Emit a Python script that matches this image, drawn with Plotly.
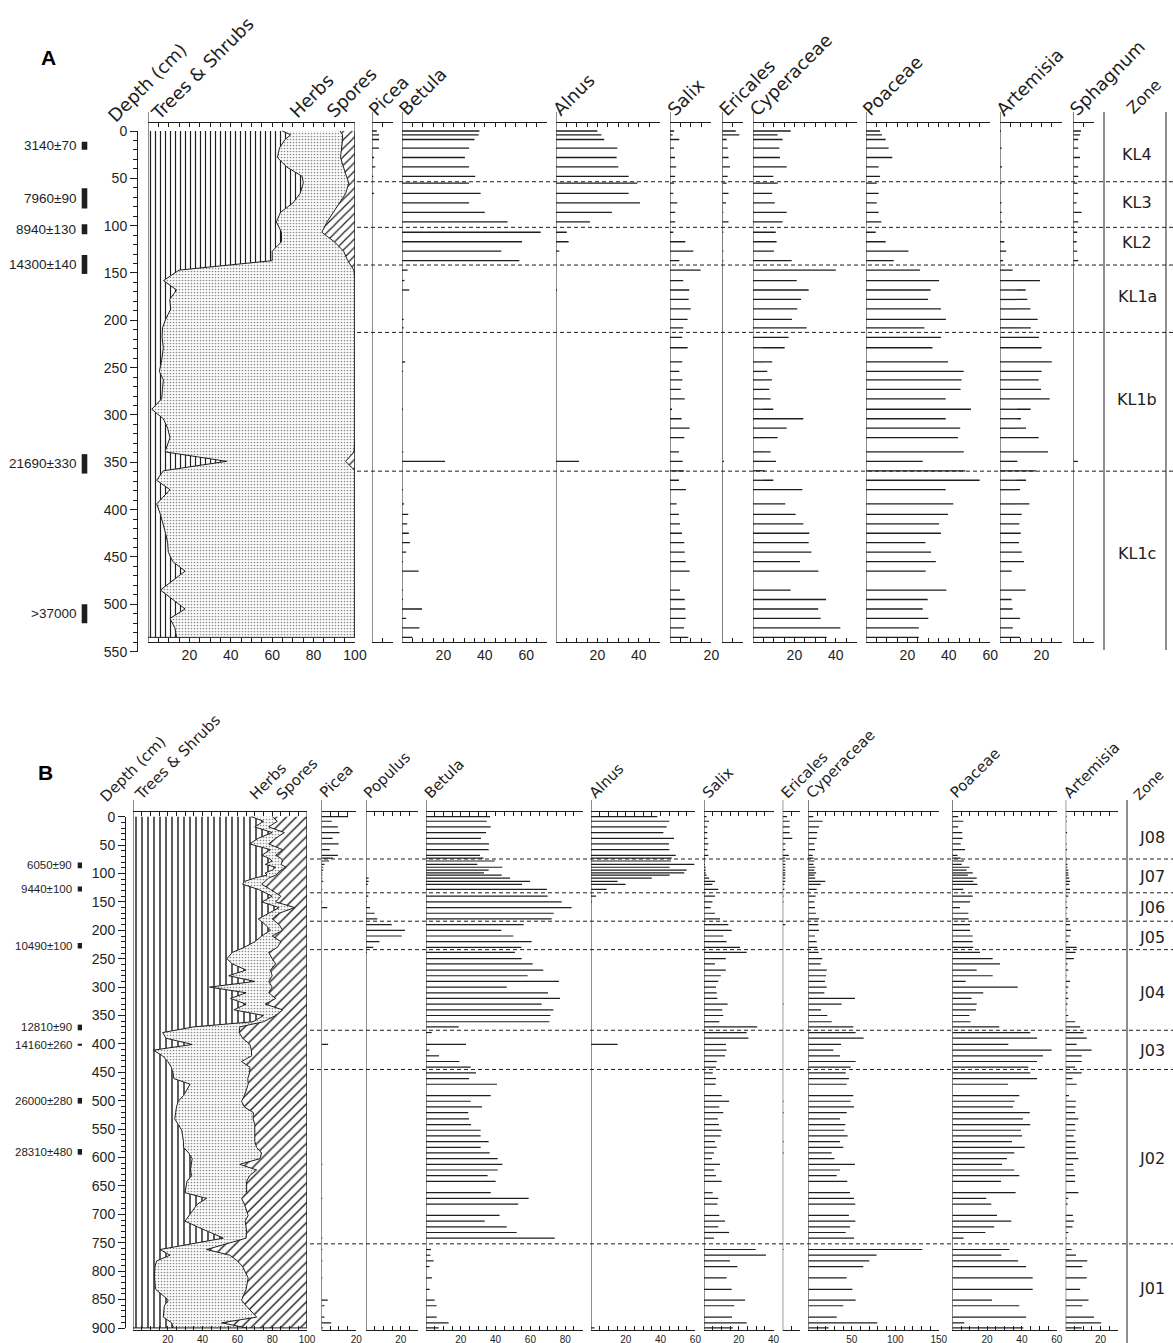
import plotly.graph_objects as go

W, H = 1173, 1343
INK = "#1e1e1e"
FONT = "DejaVu Sans"
NUM_FONT = "Liberation Sans, Arial, sans-serif"

# ------------------------------------------------------------------
# Core A (zones KL1c-KL4): sample depths (cm) and percentages
# ------------------------------------------------------------------
depth_A = [0, 4, 9, 18, 28, 38, 48, 55, 66, 76,
           86, 96, 107, 117, 127, 137, 147, 158, 168, 178,
           188, 199, 208, 218, 229, 244, 254, 263, 273, 283,
           294, 304, 314, 324, 339, 349, 359, 369, 379, 394,
           405, 415, 425, 435, 445, 455, 465, 485, 495, 505,
           515, 525, 535]
trees_shrubs_A = [64.9, 68.9, 66.2, 63.5, 62.5, 67.0, 74.5, 75.0, 73.5, 70.0,
                  64.0, 62.0, 64.5, 64.5, 60.0, 60.0, 15.0, 7.5, 13.8, 10.5,
                  11.0, 8.5, 7.0, 6.8, 7.4, 6.5, 5.5, 7.4, 7.0, 6.6,
                  1.8, 7.4, 9.5, 10.6, 8.2, 38.0, 7.4, 4.2, 10.6, 4.2,
                  6.0, 7.4, 8.5, 9.5, 9.8, 12.0, 17.9, 6.0, 12.0, 17.9,
                  10.6, 13.0, 13.8]
# cumulative trees & shrubs + herbs; spores make up the rest to 100
trees_herbs_A = [92.8, 94.0, 94.0, 93.5, 93.0, 94.4, 96.0, 97.0, 95.5, 92.5,
                 89.5, 86.5, 84.0, 90.0, 94.5, 96.5, 99.5, 100, 100, 100,
                 100, 100, 100, 100, 100, 100, 100, 100, 100, 100,
                 100, 100, 100, 100, 99.5, 95.5, 100, 100, 100, 100,
                 100, 100, 100, 100, 100, 100, 100, 100, 100, 100,
                 100, 100, 100]
picea_A = [2.3, 3.4, 3.4, 3.4, 1.0, 1.6, 0.6, 0, 1.0, 0,
           0, 0, 0, 0, 0, 0, 0, 0, 0, 0,
           0, 0, 0, 0, 0, 0, 0, 0, 0, 0,
           0, 0, 0, 0, 0, 0, 0, 0, 0, 0,
           0, 0, 0, 0, 0, 0, 0, 0, 0, 0,
           0, 0, 0]
betula_A = [37.4, 37.0, 35.0, 32.4, 30.4, 32.4, 35.4, 32.4, 38.0, 32.4,
            40.0, 51.0, 67.0, 58.0, 48.0, 56.7, 2.7, 1.2, 3.5, 0,
            0, 0.8, 0.8, 0, 0, 1.5, 0.5, 0, 0, 0,
            0.5, 0, 0, 0, 0.6, 20.8, 0, 0, 0.5, 1.0,
            3.0, 2.5, 3.3, 3.8, 2.0, 0.5, 8.0, 0.5, 0.5, 9.7,
            2.0, 8.4, 5.0]
alnus_A = [20.0, 21.9, 23.3, 29.6, 29.3, 30.1, 35.1, 39.3, 35.1, 40.6,
           27.0, 16.4, 5.2, 6.1, 1.6, 0, 0, 0, 0.5, 0,
           0, 0, 0, 0, 0, 0, 0, 0, 0, 0,
           0, 0, 0, 0, 0, 11.1, 0, 0, 0, 0,
           0, 0, 0, 0, 0, 0, 0, 0, 0, 0,
           0, 0, 0]
salix_A = [2.0, 1.3, 4.5, 2.0, 2.4, 3.0, 2.5, 2.0, 1.6, 3.5,
           2.5, 2.5, 1.6, 7.4, 11.3, 4.5, 14.8, 6.4, 9.3, 9.0,
           10.0, 8.5, 6.4, 5.9, 8.5, 5.9, 4.5, 6.0, 5.2, 7.1,
           1.0, 5.6, 9.5, 6.9, 4.3, 6.1, 6.8, 4.3, 7.7, 3.2,
           4.3, 4.8, 5.8, 6.9, 7.1, 7.6, 9.5, 4.8, 7.1, 7.4,
           7.6, 6.8, 8.8]
ericales_A = [6.5, 8.2, 2.1, 2.6, 3.0, 3.7, 2.6, 2.1, 3.0, 1.8,
              0.5, 3.0, 0.5, 0, 0.5, 0.5, 0, 0, 0, 0,
              0, 0, 0, 0, 0, 0, 0, 0, 0, 0,
              0, 0, 0, 0, 0, 0.8, 0, 0, 0, 0,
              0, 0, 0, 0, 0, 0, 0, 0, 0, 0,
              0, 0, 0]
cyperaceae_A = [18.2, 11.9, 14.3, 12.7, 13.0, 16.3, 9.8, 11.9, 9.3, 10.5,
                16.3, 14.3, 11.0, 11.4, 10.1, 18.7, 40.0, 21.1, 26.9, 23.2,
                21.4, 18.8, 25.9, 17.2, 15.3, 9.3, 6.9, 9.1, 7.9, 8.5,
                9.8, 24.3, 16.3, 11.9, 8.5, 11.1, 5.8, 9.8, 23.8, 15.6,
                20.6, 24.3, 27.2, 26.9, 28.2, 22.7, 31.6, 18.2, 35.3, 31.5,
                32.7, 42.2, 35.6]
poaceae_A = [6.8, 7.7, 9.5, 10.9, 12.7, 6.1, 6.8, 5.2, 6.1, 5.2,
             6.1, 7.4, 4.7, 9.5, 20.5, 13.4, 26.1, 35.3, 31.2, 30.0,
             36.2, 38.6, 28.2, 36.2, 32.1, 39.6, 47.2, 46.2, 45.7, 38.5,
             50.7, 38.5, 45.5, 44.4, 47.2, 27.4, 48.0, 54.9, 38.5, 42.2,
             39.6, 35.3, 36.2, 28.7, 31.4, 33.7, 28.8, 38.8, 29.8, 27.4,
             30.1, 25.5, 25.5]
artemisia_A = [0.5, 0, 0, 0.8, 0, 1.0, 0, 0.8, 0, 0.8,
               0.8, 1.0, 0, 2.1, 3.0, 1.5, 6.1, 19.3, 12.4, 13.2,
               14.7, 18.2, 14.9, 18.8, 20.1, 25.0, 20.1, 18.7, 19.8, 24.0,
               14.8, 10.1, 12.6, 18.7, 23.2, 8.4, 17.4, 12.6, 9.7, 14.2,
               10.5, 9.3, 10.0, 9.2, 10.5, 11.6, 5.6, 12.4, 5.6, 6.1,
               9.7, 6.2, 9.7]
sphagnum_A = [3.7, 3.2, 2.4, 2.4, 3.2, 2.4, 2.4, 1.9, 2.4, 1.6,
              4.0, 2.4, 1.9, 1.6, 1.9, 2.4, 0, 0, 0, 0,
              0, 0, 0, 0, 0, 0, 0, 0, 0, 0,
              0, 0, 0, 0, 0, 2.2, 0, 0, 0, 0,
              0, 0, 0, 0, 0, 0, 0, 0, 0, 0,
              0, 0, 0]

zones_A = ["KL4", "KL3", "KL2", "KL1a", "KL1b", "KL1c"]
zone_mid_A = [25, 76, 118, 175, 284, 446]
zone_bounds_A = [53.6, 101.8, 141.6, 212.8, 359.4]
dates_A = ["3140±70", "7960±90", "8940±130", "14300±140", "21690±330", ">37000"]
date_top_A = [11.3, 60.6, 98.6, 131, 341.4, 500]
date_bot_A = [19.8, 81.8, 109.2, 151, 361.9, 520]

# ------------------------------------------------------------------
# Core B (zones J01-J08)
# ------------------------------------------------------------------
depth_B = [0, 8, 18, 28, 38, 48, 58, 68, 73, 78,
           84, 89, 94, 99, 103, 108, 114, 119, 128, 140,
           150, 160, 170, 180, 190, 200, 210, 220, 230, 239,
           250, 259, 270, 280, 290, 300, 310, 320, 330, 340,
           350, 361, 370, 380, 390, 401, 411, 421, 431, 441,
           451, 461, 471, 491, 501, 511, 521, 532, 542, 552,
           562, 572, 582, 592, 602, 612, 622, 632, 642, 662,
           672, 682, 702, 712, 722, 732, 742, 762, 772, 782,
           792, 812, 832, 851, 861, 881, 891, 900]
trees_shrubs_B = [68, 75, 70, 80, 72, 67, 79, 74, 78, 80,
                  76, 82, 80, 76, 77, 70, 64, 63, 72, 80,
                  74, 84, 78, 72, 76, 79, 74, 70, 64, 57,
                  54, 57, 65, 55, 70, 44, 65, 56, 65, 58,
                  75, 69, 35, 17, 19, 34, 11.7, 17, 20, 22,
                  23, 23.5, 32.8, 29, 26, 25, 24.5, 24, 26, 28,
                  28.5, 29, 29, 32, 34, 33.5, 33, 33.7, 31, 29.9,
                  42.3, 37, 32, 29.9, 37, 45, 51.9, 15.5, 21.3, 13.6,
                  12.6, 12.3, 13, 20.3, 18, 17.4, 22.2, 23.2]
trees_herbs_B = [80, 83, 78, 87, 82, 78, 86, 82, 85, 86,
                 85, 88, 85, 83, 82, 78, 76, 74, 79, 85,
                 82, 93, 84, 80, 84, 86, 80, 85, 83, 78,
                 80, 82, 79, 80, 78, 80, 78, 82, 76, 86,
                 82, 75, 61.4, 61, 63, 67.2, 68, 68.2, 62.4, 67.2,
                 67, 66, 66.2, 64, 62.4, 64, 69.2, 69, 70, 70,
                 70.1, 70, 71, 73.9, 73, 61.4, 71.1, 67, 65.3, 65.3,
                 62.4, 64, 66.2, 64.4, 65, 65.3, 65, 42.3, 55.7, 60,
                 63, 66.2, 65, 62.4, 65, 71.1, 51, 65.3]
picea_B = [15.3, 5.9, 9.4, 10.3, 6.4, 9.8, 4.8, 9.4, 6.5, 4.4,
           1.7, 1.0, 1.0, 0.5, 0.5, 0.5, 1.0, 0, 0.5, 0,
           0.5, 3.3, 0, 0, 0, 0, 0, 0, 0, 0,
           0, 0, 0, 0, 0, 0, 0, 0, 0, 0,
           0, 0, 0, 0, 0, 3.8, 0, 0, 0, 0,
           0, 0, 0, 0, 0, 0, 0, 0, 0, 0,
           0, 0, 0, 0, 0, 0.5, 0, 0, 0, 0,
           0.5, 0, 0, 0, 0, 0, 0.5, 0.5, 0, 0.5,
           0, 0.5, 0, 3.6, 1.7, 1.7, 5.6, 0.8]
populus_B = [0, 0, 0, 0, 0, 0, 0, 0, 0, 0,
             0, 0, 0, 0, 0, 1.5, 1.5, 1.0, 0, 1.3,
             0.5, 2.3, 5.0, 6.5, 14.8, 22.4, 20.5, 7.7, 4.2, 0.5,
             0, 0, 0, 0, 0, 0, 0, 0, 0, 0,
             0, 0, 0, 0, 0, 0, 0, 0, 0, 0,
             0, 0, 0, 0, 0, 0, 0, 0, 0, 0,
             0, 0, 0, 0, 0, 0, 0, 0, 0, 0,
             0, 0, 0, 0, 0, 0, 0, 0, 0, 0,
             0, 0, 0, 0, 0, 0, 0, 0]
betula_B = [36.8, 34.9, 37.2, 34.5, 31.6, 36.2, 36.0, 31.0, 33.0, 39.5,
            29.5, 43.9, 36.0, 33.3, 43.5, 48.3, 59.8, 55.2, 69.5, 69.9,
            78.0, 83.7, 73.4, 72.2, 56.1, 43.3, 50.2, 60.7, 54.8, 51.1,
            55.0, 61.3, 67.4, 58.4, 76.4, 46.4, 70.1, 77.0, 66.5, 73.2,
            71.5, 70.9, 18.8, 3.3, 0, 23.0, 1.9, 7.5, 19.2, 25.7,
            28.7, 24.7, 40.8, 37.2, 25.7, 32.2, 24.3, 24.7, 25.9, 31.4,
            31.4, 36.0, 31.4, 36.6, 41.2, 43.9, 41.2, 35.4, 40.0, 37.2,
            59.0, 53.0, 42.3, 33.7, 46.4, 52.1, 74.0, 2.9, 2.5, 4.4,
            2.1, 3.4, 2.1, 5.0, 6.1, 6.1, 13.0, 7.3]
alnus_B = [38.1, 45.0, 43.5, 41.6, 47.7, 44.8, 45.0, 48.7, 46.4, 45.9,
           59.4, 45.2, 55.0, 53.6, 45.2, 34.9, 15.3, 19.9, 9.0, 2.9,
           0.5, 0, 0, 0, 0, 0, 0, 0, 0, 0,
           0, 0, 0, 0, 0, 0, 0, 0, 0, 0,
           0, 0, 0, 0, 0, 15.3, 0, 0, 0, 0,
           0, 0, 0, 0, 0, 0, 0, 0, 0, 0,
           0, 0, 0, 0, 0, 0, 0, 0, 0, 0,
           0, 0, 0, 0, 0, 0, 0, 0, 0, 0,
           0, 0, 0, 0, 0, 0, 0, 2.0]
salix_B = [1.5, 2.9, 1.9, 1.9, 1.9, 2.5, 1.9, 2.5, 0.5, 0.5,
           0.5, 1.0, 1.0, 1.0, 1.5, 3.0, 6.3, 4.8, 8.2, 6.3,
           4.8, 3.8, 6.3, 9.2, 14.0, 15.9, 11.1, 13.0, 20.7, 24.5,
           12.5, 6.3, 12.5, 9.6, 8.2, 6.9, 7.3, 7.7, 13.6, 10.5,
           11.1, 8.8, 30.6, 24.5, 25.5, 12.6, 13.0, 12.1, 7.3, 6.9,
           5.0, 6.9, 6.7, 10.2, 14.4, 8.8, 11.1, 7.9, 8.6, 10.2,
           9.6, 6.3, 7.3, 5.7, 4.6, 9.2, 5.9, 6.9, 10.2, 5.0,
           8.2, 7.7, 8.8, 12.1, 8.2, 14.4, 5.7, 29.7, 35.6, 14.9,
           19.2, 13.0, 15.9, 23.6, 17.4, 16.1, 24.5, 16.5]
ericales_B = [2.5, 4.0, 4.0, 4.0, 5.5, 1.5, 1.5, 3.5, 1.5, 1.5,
              1.5, 1.5, 1.5, 1.5, 1.5, 1.5, 1.5, 1.0, 1.0, 0.5,
              0.5, 0, 0, 0, 1.5, 0, 0, 0, 0, 0,
              0, 0, 0, 0, 0, 0, 0, 0, 0.5, 0,
              0, 0, 0, 0, 0, 0, 0, 0, 0, 0,
              0, 0, 0, 0, 0.5, 0, 0.5, 0, 0, 0,
              0, 0.5, 0, 0.5, 0, 0, 0, 0, 0, 0,
              0, 0, 0, 0, 0, 0, 0, 0.5, 0, 0,
              0, 0, 0, 0, 0, 0, 0, 0]
cyperaceae_B = [5.7, 16.5, 12.3, 10.3, 9.6, 6.9, 7.7, 5.0, 6.0, 7.0,
                6.0, 8.0, 7.0, 9.0, 7.0, 8.0, 19.5, 14.2, 9.6, 8.4,
                6.9, 7.7, 8.8, 12.3, 11.5, 12.3, 7.7, 9.6, 10.3, 11.9,
                16.1, 14.2, 21.1, 20.4, 19.2, 21.1, 18.4, 53.6, 38.3, 14.6,
                21.9, 26.9, 51.7, 54.4, 63.6, 37.6, 28.8, 36.4, 54.4, 48.7,
                43.0, 46.7, 44.1, 51.7, 48.7, 52.5, 44.1, 36.4, 42.5, 41.4,
                45.2, 36.4, 40.2, 26.9, 30.0, 53.6, 36.4, 32.6, 44.8, 47.9,
                52.5, 54.0, 46.7, 54.0, 47.9, 43.0, 52.5, 131.0, 78.5, 70.1,
                63.2, 44.1, 50.6, 54.4, 40.2, 32.6, 79.3, 23.3]
poaceae_B = [3.4, 6.3, 3.4, 5.7, 5.9, 4.8, 7.3, 3.0, 4.8, 6.7,
             5.4, 9.8, 8.2, 11.7, 8.9, 14.0, 12.1, 14.4, 6.3, 11.7,
             10.2, 4.4, 9.2, 9.4, 10.2, 10.2, 11.7, 11.7, 12.1, 15.9,
             23.2, 27.4, 14.0, 23.2, 7.7, 37.6, 17.8, 11.1, 14.0, 13.6,
             9.8, 10.5, 27.0, 44.8, 48.7, 32.2, 57.1, 52.1, 48.7, 43.7,
             44.8, 48.7, 32.0, 38.5, 35.8, 34.9, 44.5, 40.6, 44.8, 39.5,
             40.1, 34.3, 41.6, 35.6, 31.4, 28.6, 35.6, 38.5, 28.0, 36.4,
             19.5, 22.4, 25.7, 33.9, 24.1, 19.0, 6.5, 32.8, 28.2, 37.8,
             42.4, 46.2, 46.2, 22.8, 38.5, 42.4, 6.9, 40.8]
artemisia_B = [0.5, 0.5, 0, 0.8, 0, 0.5, 0.8, 0, 0.5, 0.5,
               1.0, 1.0, 1.5, 1.5, 1.5, 2.0, 2.5, 2.0, 2.5, 1.5,
               0.5, 1.0, 0.5, 1.5, 2.5, 3.0, 2.5, 1.5, 6.3, 5.7,
               4.7, 1.0, 1.5, 0.5, 2.5, 1.5, 1.0, 1.5, 1.0, 0.5,
               1.5, 5.4, 8.3, 10.2, 12.1, 6.3, 14.9, 9.2, 9.2, 5.4,
               9.2, 3.9, 6.3, 1.9, 5.9, 5.7, 5.4, 7.3, 5.4, 5.7,
               4.6, 5.7, 5.4, 5.9, 7.3, 4.3, 4.6, 5.4, 5.4, 7.3,
               1.5, 1.1, 4.1, 4.8, 3.9, 1.5, 0.6, 3.4, 5.9, 12.4,
               9.6, 12.1, 8.3, 13.1, 9.6, 16.3, 20.4, 9.2]

zones_B = ["J08", "J07", "J06", "J05", "J04", "J03", "J02", "J01"]
zone_mid_B = [37, 106, 160, 212, 309, 411, 601, 830]
zone_bounds_B = [74.5, 134, 184, 234, 376, 445, 752]
dates_B = ["6050±90", "9440±100", "10490±100", "12810±90", "14160±260",
           "26000±280", "28310±480"]
date_top_B = [80.8, 122.7, 222.4, 366, 399.6, 495, 585]
date_bot_B = [90.7, 131.5, 231.9, 376, 403.2, 505, 595]

for arr in (trees_shrubs_A, trees_herbs_A, picea_A, betula_A, alnus_A, salix_A,
            ericales_A, cyperaceae_A, poaceae_A, artemisia_A, sphagnum_A):
    assert len(arr) == len(depth_A)
for arr in (trees_shrubs_B, trees_herbs_B, picea_B, populus_B, betula_B, alnus_B,
            salix_B, ericales_B, cyperaceae_B, poaceae_B, artemisia_B):
    assert len(arr) == len(depth_B)


# ------------------------------------------------------------------
# helpers (pixel -> paper)
# ------------------------------------------------------------------
def fx(px):
    return px / W


def fy(py):
    return 1 - py / H


fig = go.Figure()
layout = dict(template="none", width=W, height=H,
              margin=dict(l=0, r=0, t=0, b=0, pad=0, autoexpand=False),
              paper_bgcolor="white", plot_bgcolor="rgba(0,0,0,0)",
              showlegend=False, hovermode=False)
shapes, annots = [], []
_xcount = [0]


def next_xaxis():
    _xcount[0] += 1
    k = _xcount[0]
    return ("x" if k == 1 else f"x{k}"), ("xaxis" if k == 1 else f"xaxis{k}")


def header(text, sx, sy, size):
    annots.append(dict(text=text, xref="paper", yref="paper",
                       x=fx(sx - 0.62 * size), y=fy(sy + 0.25 * size),
                       xanchor="left", yanchor="bottom", textangle=-45,
                       showarrow=False,
                       font=dict(family=FONT, size=size, color=INK)))


def line_shape(xref, yref, x0, x1, y0, y1, dash=None, width=1):
    ln = dict(color=INK, width=width)
    if dash:
        ln["dash"] = dash
    shapes.append(dict(type="line", xref=xref, yref=yref, x0=x0, x1=x1,
                       y0=y0, y1=y1, line=ln, layer="above"))


def bar_segments(values, depth):
    """Horizontal percentage bars, one thin segment per sample."""
    xs, ys = [], []
    for v, d in zip(values, depth):
        if v > 0:
            xs += [0, v, None]
            ys += [d, d, None]
    return xs, ys


def add_panel(p):
    # main (hidden) depth axis shared by all columns of the panel
    layout[p["ykey"]] = dict(domain=[fy(p["bot_px"]), fy(p["top_px"])],
                             range=[p["d_bot"], p["d_top"]], visible=False,
                             automargin=False, fixedrange=True)
    # visible depth ruler
    layout[p["rkey"]] = dict(domain=[fy(p["r_bot_px"]), fy(p["r_top_px"])],
                             range=[p["r_max"], 0], anchor="free",
                             position=fx(p["r_x"]), side="left",
                             showline=True, linecolor=INK, linewidth=1,
                             ticks="outside", ticklen=7, tickwidth=1,
                             tickcolor=INK, tick0=0, dtick=50,
                             minor=dict(dtick=10, ticklen=4, ticks="outside",
                                        tickcolor=INK, tickwidth=1,
                                        showgrid=False),
                             showgrid=False, zeroline=False, fixedrange=True,
                             automargin=False,
                             tickfont=dict(family=NUM_FONT, size=14, color=INK))


def add_column(p, name, x0, x1, xmax, dtick, labelled, values=None,
               depth=None):
    xref, xkey = next_xaxis()
    vals = list(range(0, xmax + 1, dtick))
    layout[xkey] = dict(domain=[fx(x0), fx(x1)], range=[0, xmax],
                        anchor=p["y"], showline=True, linecolor=INK,
                        linewidth=1, mirror="ticks", ticks="inside",
                        ticklen=4, tickwidth=1, tickcolor=INK,
                        tickvals=vals,
                        ticktext=[str(v) if v in labelled else "" for v in vals],
                        showgrid=False, zeroline=False, fixedrange=True,
                        automargin=False,
                        tickfont=dict(family=NUM_FONT, size=p["tick_size"],
                                      color=INK))
    if values is not None:
        xs, ys = bar_segments(values, depth)
        fig.add_trace(go.Scatter(x=xs, y=ys, xaxis=xref, yaxis=p["y"],
                                 mode="lines", connectgaps=False,
                                 line=dict(color=INK, width=p["bar_lw"]),
                                 hoverinfo="skip"))
    # left axis line, running up past the header line
    line_shape(xref, "paper", 0, 0, fy(p["v_bot"]), fy(p["v_top"]))
    if name:
        header(name, x0 + 1, p["head_y"], p["head_size"])
    return xref


def add_summary(p, x0, x1, depth, ts, th, hatch):
    xref = add_column(p, None, x0, x1, 100, 5, [20, 40, 60, 80, 100])
    y = p["y"]
    fig.add_trace(go.Scatter(
        x=ts, y=depth, xaxis=xref, yaxis=y, mode="lines",
        line=dict(color=INK, width=1), fill="tozerox", fillcolor="white",
        fillpattern=dict(shape="|", size=hatch, solidity=0.24, fgcolor=INK,
                         bgcolor="white"), hoverinfo="skip"))
    fig.add_trace(go.Scatter(
        x=th, y=depth, xaxis=xref, yaxis=y, mode="lines",
        line=dict(color=INK, width=1), fill="tonextx", fillcolor="white",
        fillpattern=dict(shape=".", size=3, solidity=0.25, fgcolor="#8a8a8a",
                         bgcolor="white"), hoverinfo="skip"))
    fig.add_trace(go.Scatter(
        x=[100] * len(depth), y=depth, xaxis=xref, yaxis=y, mode="lines",
        line=dict(color=INK, width=1), fill="tonextx", fillcolor="white",
        fillpattern=dict(shape="/", size=hatch + 1, solidity=0.2, fgcolor=INK,
                         bgcolor="white"), hoverinfo="skip"))
    # box closing lines
    line_shape(xref, y, 100, 100, p["d_top"], depth[-1])
    line_shape(xref, y, 0, 100, depth[-1], depth[-1])
    # invisible anchor so the depth ruler is drawn
    fig.add_trace(go.Scatter(x=[0], y=[0], xaxis=xref, yaxis=p["r"],
                             mode="markers", marker=dict(size=1, opacity=0),
                             hoverinfo="skip"))
    return xref


def add_zones(p, names, mids, bounds, x_line0, x_label, zone_lines):
    for b in bounds:
        line_shape("paper", p["y"], fx(x_line0), 1.0, b, b, dash="4px,3px")
    for n, m in zip(names, mids):
        annots.append(dict(text=n, xref="paper", yref=p["y"], x=fx(x_label),
                           y=m, xanchor="center", yanchor="middle",
                           showarrow=False,
                           font=dict(family=FONT, size=16, color=INK)))
    for xl in zone_lines:
        line_shape("paper", "paper", fx(xl), fx(xl), fy(p["zone_bot"]),
                   fy(p["v_top"]))


def add_dates(p, labels, tops, bots, xr0, xr1, text_x, size):
    for lab, t, b in zip(labels, tops, bots):
        shapes.append(dict(type="rect", xref="paper", yref=p["r"],
                           x0=fx(xr0), x1=fx(xr1), y0=t, y1=b,
                           fillcolor=INK, line=dict(width=0)))
        annots.append(dict(text=lab, xref="paper", yref=p["r"], x=fx(text_x),
                           y=(t + b) / 2, xanchor="right", yanchor="middle",
                           showarrow=False,
                           font=dict(family=NUM_FONT, size=size, color=INK)))


# ------------------------------------------------------------------
# Panel A
# ------------------------------------------------------------------
PA = dict(y="y", ykey="yaxis", r="y2", rkey="yaxis2",
          top_px=123, bot_px=641.7, d_top=-8.45, d_bot=539.57,
          r_top_px=131, r_bot_px=651.6, r_max=550, r_x=137,
          v_top=112, v_bot=643, zone_bot=650, head_y=118, head_size=18,
          bar_lw=1.3, tick_size=14)
add_panel(PA)
add_summary(PA, 148, 355, depth_A, trees_shrubs_A, trees_herbs_A, 5)
add_column(PA, "Picea", 372, 392.7, 10, 5, [], picea_A, depth_A)
add_column(PA, "Betula", 402, 546.9, 70, 5, [20, 40, 60], betula_A, depth_A)
add_column(PA, "Alnus", 556, 659.5, 50, 5, [20, 40], alnus_A, depth_A)
add_column(PA, "Salix", 670, 711.4, 20, 5, [20], salix_A, depth_A)
add_column(PA, "Ericales", 722.3, 743, 10, 5, [], ericales_A, depth_A)
add_column(PA, "Cyperaceae", 753, 856.5, 50, 5, [20, 40], cyperaceae_A, depth_A)
add_column(PA, "Poaceae", 866, 990.2, 60, 5, [20, 40, 60], poaceae_A, depth_A)
add_column(PA, "Artemisia", 1000, 1062.1, 30, 5, [20], artemisia_A, depth_A)
add_column(PA, "Sphagnum", 1073.3, 1094, 10, 5, [], sphagnum_A, depth_A)
header("Depth (cm)", 112, 124, 18)
header("Trees & Shrubs", 155, 122, 18)
header("Herbs", 294, 120, 18)
header("Spores", 331, 120, 18)
header("Zone", 1130, 117, 16)
add_zones(PA, zones_A, zone_mid_A, zone_bounds_A, 357, 1137, [1104, 1166])
add_dates(PA, dates_A, date_top_A, date_bot_A, 81.7, 87.3, 78, 13.5)

# ------------------------------------------------------------------
# Panel B
# ------------------------------------------------------------------
PB = dict(y="y3", ykey="yaxis3", r="y4", rkey="yaxis4",
          top_px=812, bot_px=1329.5, d_top=-8.27, d_bot=902.8,
          r_top_px=816.7, r_bot_px=1328, r_max=900, r_x=125,
          v_top=800, v_bot=1331, zone_bot=1343, head_y=801, head_size=15,
          bar_lw=1.2, tick_size=10)
add_panel(PB)
add_summary(PB, 133, 307, depth_B, trees_shrubs_B, trees_herbs_B, 6)
add_column(PB, "Picea", 321.5, 356.3, 20, 5, [20], picea_B, depth_B)
add_column(PB, "Populus", 366, 418.2, 30, 5, [20], populus_B, depth_B)
add_column(PB, "Betula", 426, 582.6, 90, 5, [20, 40, 60, 80], betula_B, depth_B)
add_column(PB, "Alnus", 591, 695.4, 60, 5, [20, 40, 60], alnus_B, depth_B)
add_column(PB, "Salix", 704, 773.6, 40, 5, [20, 40], salix_B, depth_B)
add_column(PB, "Ericales", 782.7, 800.1, 10, 5, [], ericales_B, depth_B)
add_column(PB, "Cyperaceae", 808.3, 938.8, 150, 10, [50, 100, 150],
           cyperaceae_B, depth_B)
add_column(PB, "Poaceae", 952.3, 1056.7, 60, 5, [20, 40, 60], poaceae_B, depth_B)
add_column(PB, "Artemisia", 1065.7, 1117.9, 30, 5, [20], artemisia_B, depth_B)
header("Depth (cm)", 103, 804, 15)
header("Trees & Shrubs", 138, 803, 15)
header("Herbs", 253, 802, 15)
header("Spores", 279, 802, 15)
header("Zone", 1136, 803, 14)
add_zones(PB, zones_B, zone_mid_B, zone_bounds_B, 310, 1152, [1127])
add_dates(PB, dates_B, date_top_B, date_bot_B, 77.7, 82, 74, 11.5)

# panel letters
for letter, lx, ly in (("A", 48, 58), ("B", 45, 773)):
    annots.append(dict(text=f"<b>{letter}</b>", xref="paper", yref="paper",
                       x=fx(lx), y=fy(ly), xanchor="center", yanchor="middle",
                       showarrow=False,
                       font=dict(family="Liberation Sans, Arial", size=21,
                                 color="black")))

layout["shapes"] = shapes
layout["annotations"] = annots
fig.update_layout(**layout)
fig.write_html("out.html")
